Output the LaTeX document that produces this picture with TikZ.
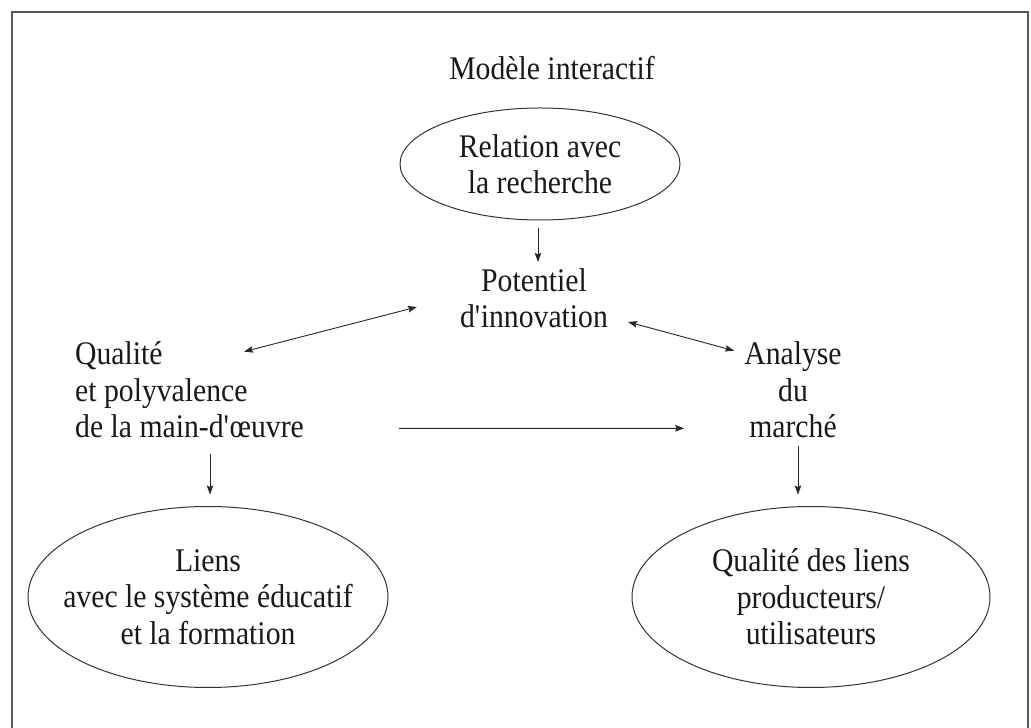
\documentclass[tikz,border=0pt]{standalone}
\usepackage{fontspec}
\setmainfont{Liberation Serif}[FakeStretch=0.9]
\usetikzlibrary{shapes.geometric,arrows.meta,calc}
\begin{document}
\begin{tikzpicture}[x=1pt,y=1pt,
  txt/.style={font=\fontsize{33}{36.5}\selectfont, inner sep=0pt, align=center, text=black!90},
  oval/.style={ellipse, draw=black!80, line width=1pt, inner sep=0pt, align=center,
     font=\fontsize{33}{36.5}\selectfont, text=black!90},
  tip/.tip={Stealth[length=9pt,width=6.5pt,inset=1.5pt]},
  arr/.style={-tip, line width=0.9pt, draw=black!85},
  darr/.style={tip-tip, line width=0.9pt, draw=black!85},
  frame/.style={draw=black!65, line width=1.5pt}]
\useasboundingbox (0,0) rectangle (1031,728);
\draw[frame] (12,-2) -- (12,716) -- (1028,716) -- (1028,-2);

\node[txt, anchor=base] (title) at (552,648) {Modèle interactif};
\node[oval, minimum width=280pt, minimum height=112pt] (rech) at (540,564) {Relation avec\\la recherche};
\node[txt] (pot) at (534,430) {Potentiel\\d\textquotesingle innovation};
\node[txt, align=left, anchor=west] (qual) at (75,338) {Qualité\\et polyvalence\\de la main-d\textquotesingle œuvre};
\node[txt] (ana) at (793,338) {Analyse\\du\\marché};
\node[oval, inner xsep=-25pt, minimum width=360pt, minimum height=181pt] (lien) at (208,131) {Liens\\avec le système éducatif\\et la formation};
\node[oval, minimum width=358pt, minimum height=181pt] (prod) at (811,131) {Qualité des liens\\producteurs/\\utilisateurs};

\draw[arr] ($(rech.south)+(-2,-8)$) -- ($(pot.north)+(4,6)$);
\draw[darr] ($(qual.north east)+(-60,-10)$) -- ($(pot.west)+(-43,-9)$);
\draw[darr] ($(pot.east)+(20,-24)$) -- ($(ana.north west)+(-10,-9)$);
\draw[arr] ($(qual.south east)+(95,10)$) -- ($(ana.south west)+(-60,10)$);
\draw[arr] ($(qual.south -| lien.north)+(2,-16)$) -- ($(lien.north)+(2,11.5)$);
\draw[arr] ($(ana.south)+(5,-8)$) -- ($(prod.north)+(-13,11.5)$);
\end{tikzpicture}
\end{document}
